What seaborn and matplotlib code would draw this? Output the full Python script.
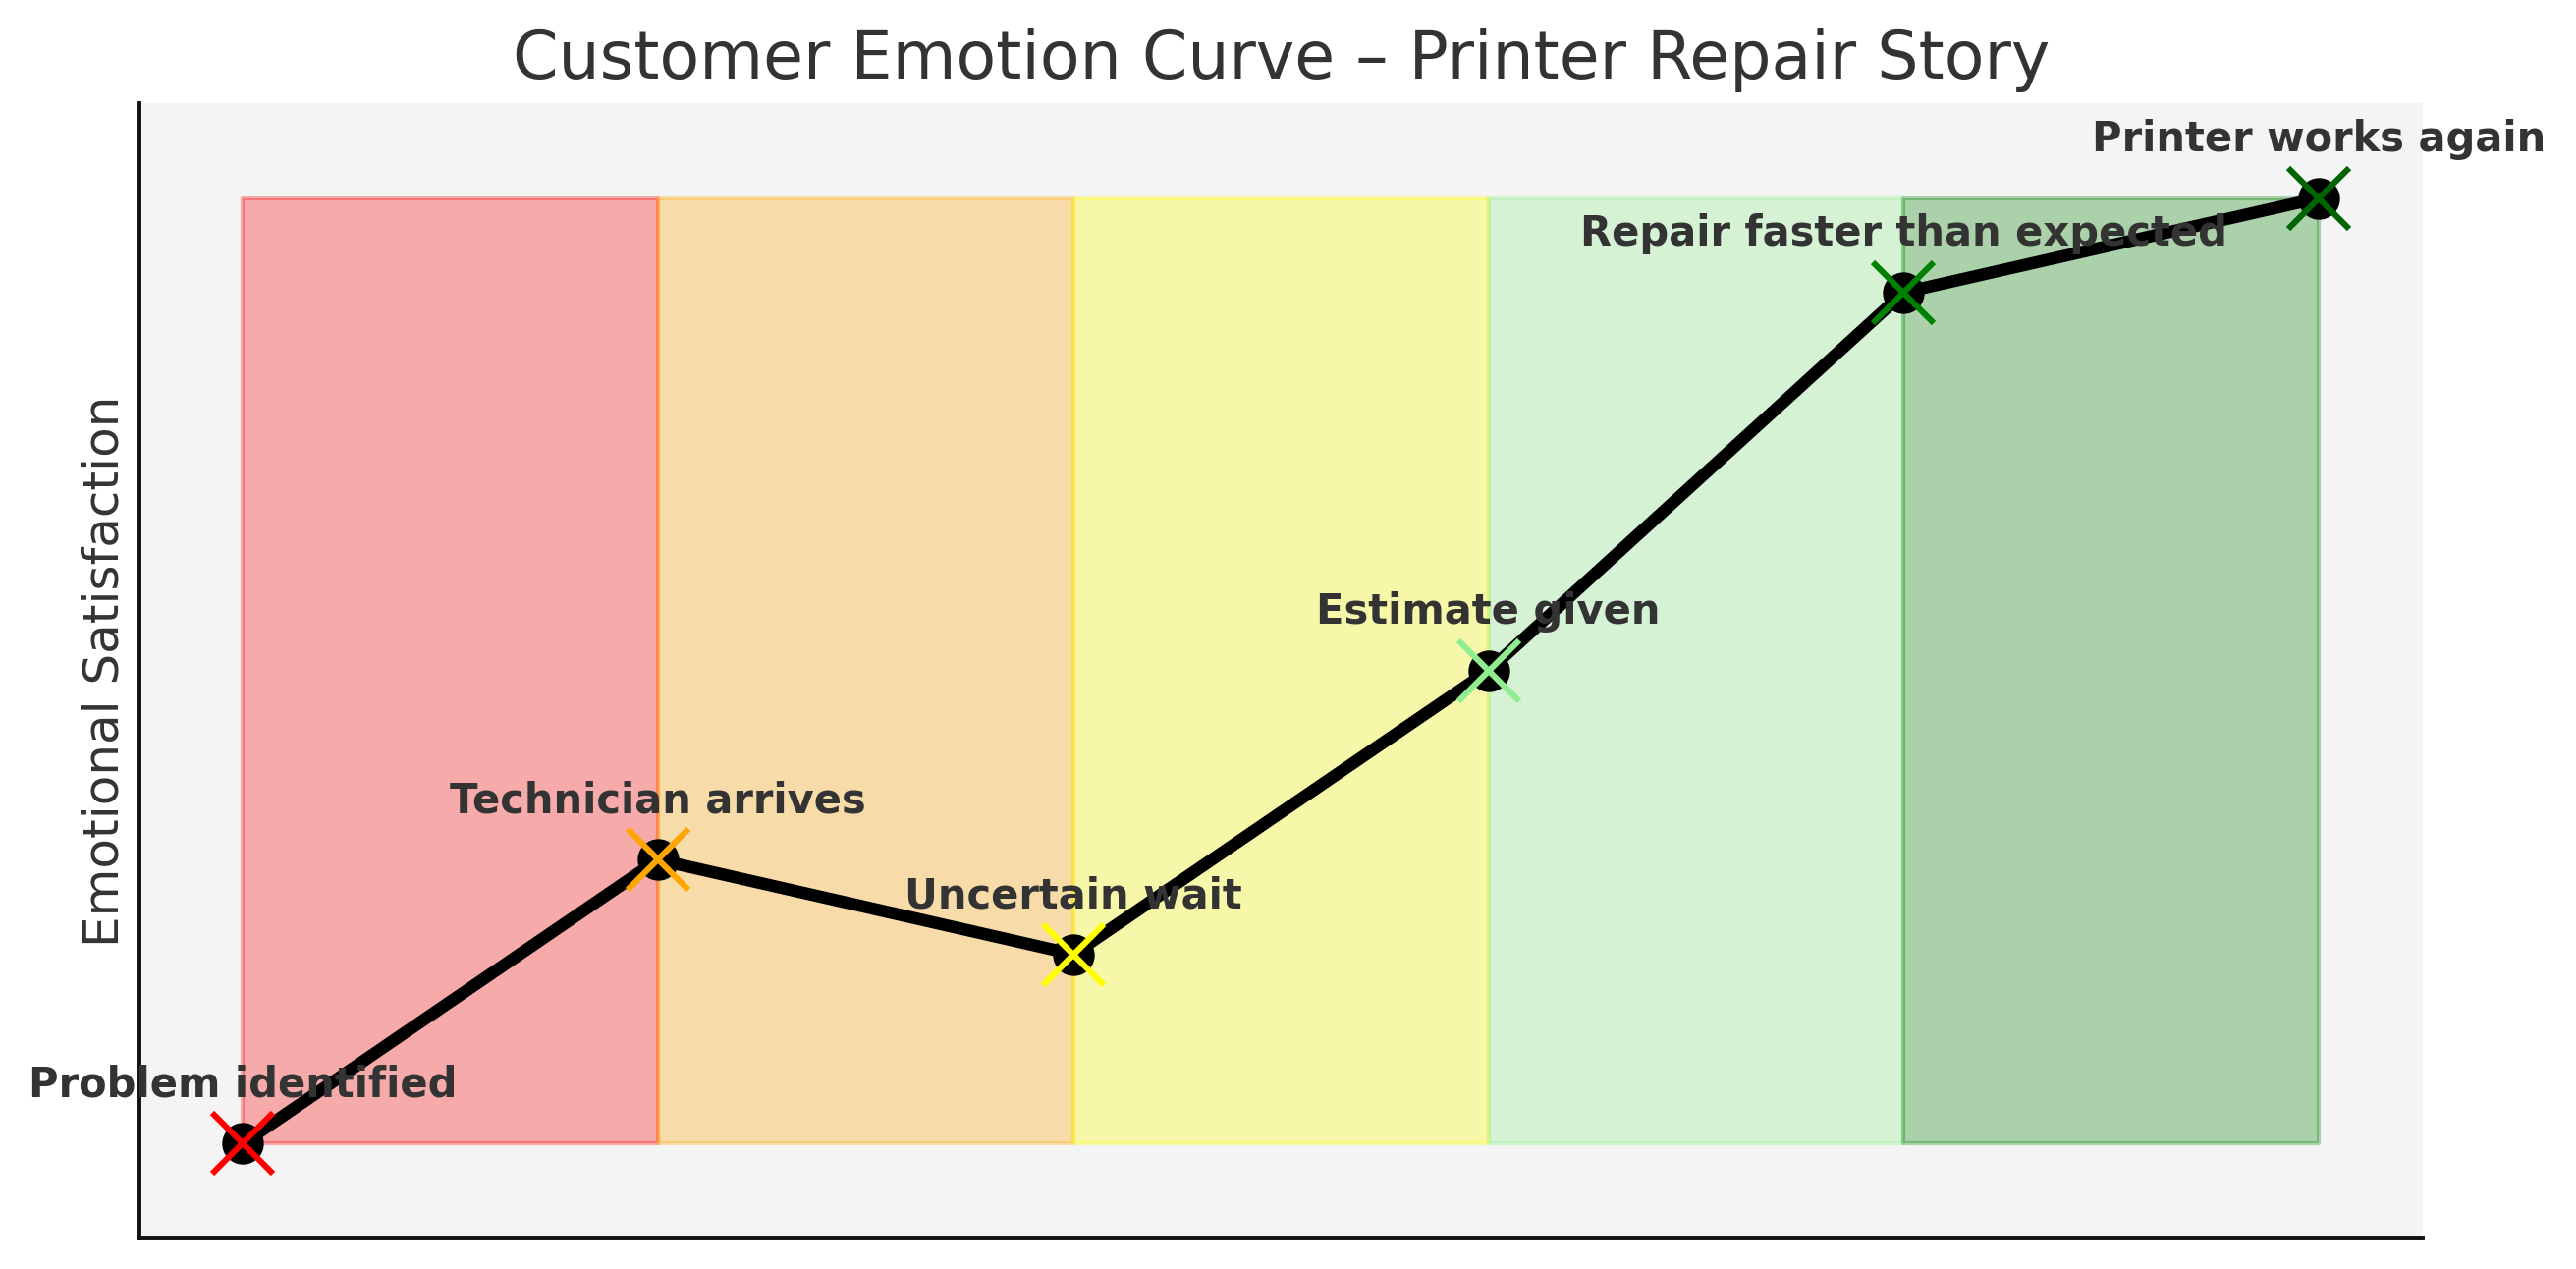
import matplotlib
matplotlib.use("Agg")
import matplotlib.pyplot as plt
import seaborn as sns
import pandas as pd

stages = ["Problem identified", "Technician arrives", "Uncertain wait",
          "Estimate given", "Repair faster than expected", "Printer works again"]
satisfaction = [1, 4, 3, 6, 10, 11]
stage_colors = ["red", "orange", "yellow", "lightgreen", "green", "darkgreen"]

df = pd.DataFrame({"step": range(len(stages)), "satisfaction": satisfaction})

sns.set_theme(style="white")
plt.rcParams['font.family'] = ['DejaVu Sans']

fig, ax = plt.subplots(figsize=(13.115, 6.46), dpi=200)
fig.subplots_adjust(left=0.054, right=0.9405, bottom=0.0245, top=0.9185)
ax.set_facecolor("#f4f4f4")

ymin, ymax = min(satisfaction), max(satisfaction)
for i in range(len(stages) - 1):
    ax.fill_between([i, i + 1], ymin, ymax, color=stage_colors[i], alpha=0.3, linewidth=1.5)

sns.lineplot(data=df, x="step", y="satisfaction", ax=ax, color="black",
             linewidth=4.5, marker="o", markersize=14.5, markeredgecolor="black")
for i, (s, v) in enumerate(zip(stages, satisfaction)):
    ax.plot(i, v, marker="x", markersize=22, markeredgewidth=2.2,
            color=stage_colors[i], linestyle="none")
    ax.text(i, v + 0.4, s, ha="center", va="bottom", fontsize=15,
            fontweight="bold", color="#333333")

ax.set_xlim(-0.25, len(stages) - 0.75)
ax.set_ylim(ymin - 1, ymax + 1)
ax.set_xticks([])
ax.set_yticks([])
ax.set_xlabel("")
ax.set_ylabel("Emotional Satisfaction", fontsize=18, color="#333333", labelpad=4)
ax.set_title("Customer Emotion Curve – Printer Repair Story", fontsize=24, color="#333333", pad=9)
for sp in ["top", "right"]:
    ax.spines[sp].set_visible(False)
for sp in ["left", "bottom"]:
    ax.spines[sp].set_color("#111111")
    ax.spines[sp].set_linewidth(1.4)

fig.savefig("out.png", dpi=200)
